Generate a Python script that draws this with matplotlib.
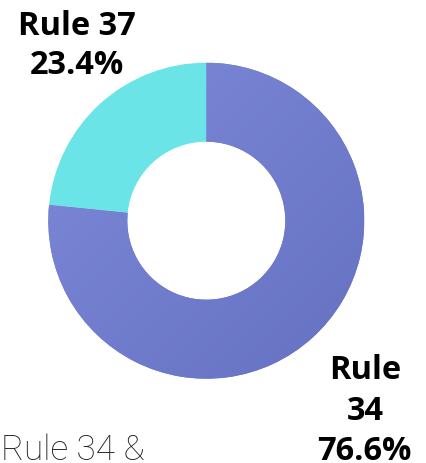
import matplotlib
matplotlib.use("Agg")
import matplotlib.pyplot as plt
import numpy as np
from matplotlib.colors import LinearSegmentedColormap

labels = ["Rule 34", "Rule 37"]
values = [76.6, 23.4]
colors = ["#7079cb", "#6ae4e6"]
title = "Rule 34 &"

W, H = 427, 463
fig = plt.figure(figsize=(W / 100, H / 100), dpi=100)
ax = fig.add_axes([0, 0, 1, 1])

cx, cy, R = 206.3, H - 220.7, 158
wedges, _ = ax.pie(values, colors=colors, startangle=90, counterclock=False,
                   center=(cx, cy), radius=R, frame=True,
                   wedgeprops=dict(width=R * 0.5, linewidth=0))

# gradient fill on the main wedge (light top-left -> darker bottom-right)
cmap = LinearSegmentedColormap.from_list("g", ["#7e8bd9", "#6570c1"])
n = 256
yy, xx = np.mgrid[0:n, 0:n] / (n - 1)
grad = (xx + (1 - yy)) / 2
im = ax.imshow(grad, cmap=cmap, extent=(cx - R, cx + R, cy - R, cy + R),
               origin="lower", zorder=wedges[0].get_zorder() + 0.1,
               interpolation="bilinear")
im.set_clip_path(wedges[0])
ax.set_xlim(0, W)
ax.set_ylim(0, H)
ax.set_aspect("equal")
ax.axis("off")

bold = dict(family=["Open Sans", "DejaVu Sans"], fontweight="bold",
            fontsize=23.5, color="#000000", ha="center", va="baseline")

# Rule 37 label
ax.text(76.5, H - 35, labels[1], **bold)
ax.text(76.5, H - 74, f"{values[1]}%", **bold)

# Rule 34 label (wrapped)
name_parts = labels[0].split(" ")
ax.text(365.5, H - 379, name_parts[0], **bold)
ax.text(365.5, H - 420, name_parts[1], **bold)
ax.text(364.5, H - 460, f"{values[0]}%", **bold)

ax.text(1, H - 460, title, family=["Roboto", "DejaVu Sans"], fontweight="light",
        fontsize=25.3, color="#222222", ha="left", va="baseline")

fig.savefig("out.png", dpi=100)
